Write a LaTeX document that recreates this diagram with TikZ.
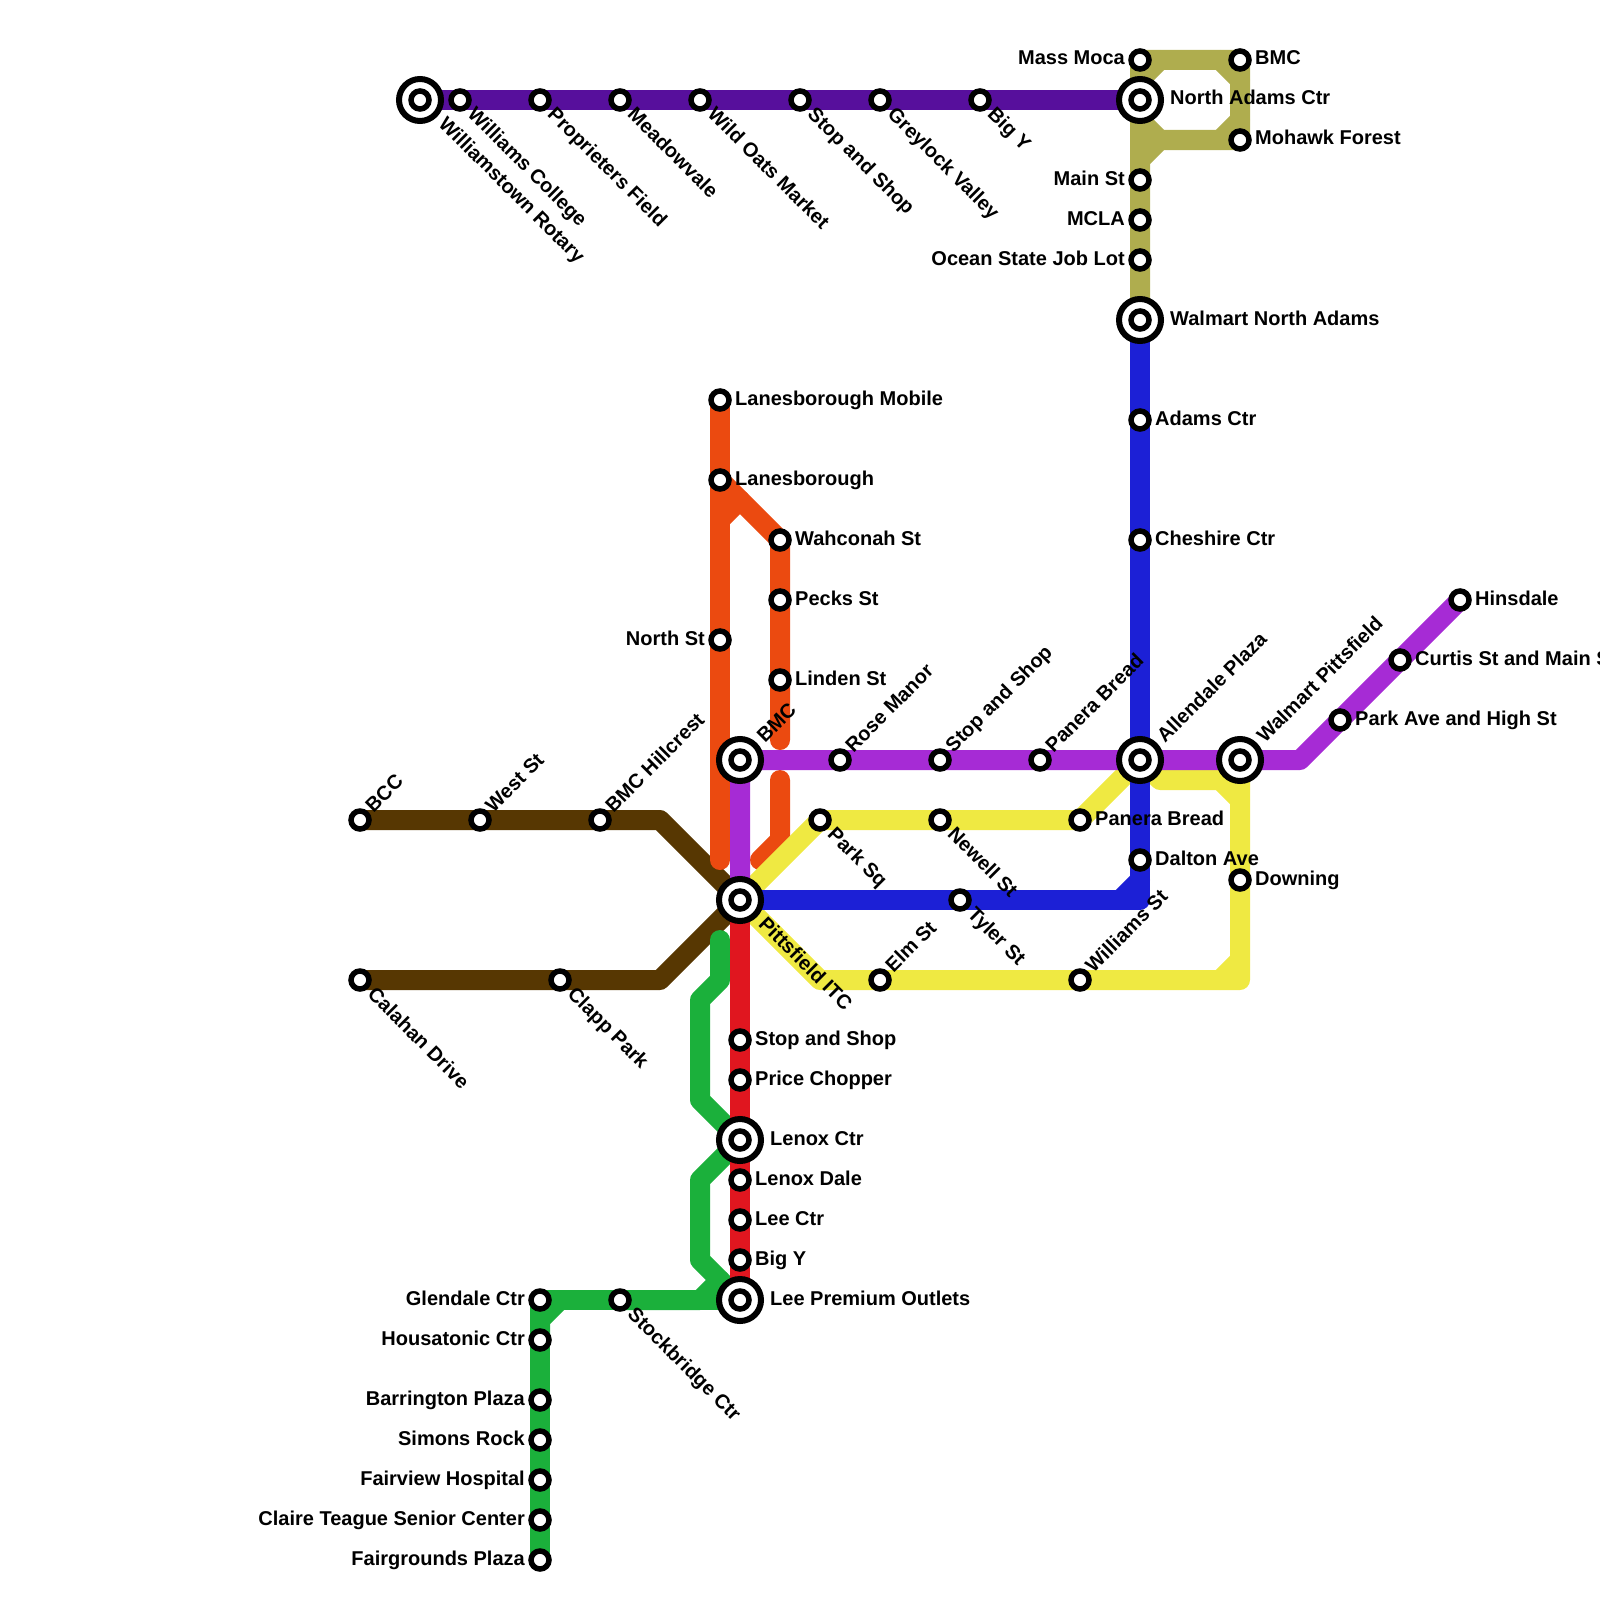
\documentclass[tikz,border=0pt]{standalone}
\usepackage{fontspec}
\setmainfont{Liberation Sans}
\definecolor{LineNorth}{HTML}{570F9C}
\definecolor{LineOlive}{HTML}{AFAD4E}
\definecolor{LineOrange}{HTML}{EB4A10}
\definecolor{LinePurple}{HTML}{A62BD5}
\definecolor{LineBlue}{HTML}{1C20D6}
\definecolor{LineYellow}{HTML}{EFE942}
\definecolor{LineBrown}{HTML}{573702}
\definecolor{LineGreen}{HTML}{1BB03B}
\definecolor{LineRed}{HTML}{E0161F}
\usetikzlibrary{backgrounds}
\tikzset{
  stop/.style={circle,draw=black,fill=white,line width=5.5pt,inner sep=0pt,outer sep=0pt,minimum size=18pt},
  hub/.style={circle,draw=black,fill=white,line width=6pt,inner sep=0pt,outer sep=0pt,minimum size=42pt},
  route/.style={line width=20pt,line cap=round,line join=round},
  lbl/.style={inner sep=0pt,font=\fontsize{20}{22}\selectfont\bfseries,text=black,text height=14pt,text depth=0pt},
  lblE/.style={lbl,anchor=west,xshift=15pt,yshift=2pt},
  lblW/.style={lbl,anchor=east,xshift=-15pt,yshift=2pt},
  lblNE/.style={lbl,anchor=west,xshift=8.5pt,yshift=11.5pt,rotate=45},
  lblSE/.style={lbl,anchor=west,xshift=11.5pt,yshift=-10.5pt,rotate=-45},
  hubE/.style={lbl,anchor=west,xshift=30pt,yshift=2pt},
  hubNE/.style={lbl,anchor=west,xshift=20pt,yshift=21pt,rotate=45},
  hubSE/.style={lbl,anchor=west,xshift=22.5pt,yshift=-20pt,rotate=-45}
}
\begin{document}
\begin{tikzpicture}[x=1pt,y=-1pt]
  \useasboundingbox (0,0) rectangle (1600,1600);
  \foreach \name/\px/\py/\side/\txt in {
    rotary/420/100/hubSE/Williamstown Rotary,
    northadams/1140/100/hubE/North Adams Ctr,
    walmartna/1140/320/hubE/Walmart North Adams,
    bmcpitt/740/760/hubNE/BMC,
    allendale/1140/760/hubNE/Allendale Plaza,
    walmartp/1240/760/hubNE/Walmart Pittsfield,
    pittsfield/740/900/hubSE/Pittsfield ITC,
    lenox/740/1140/hubE/Lenox Ctr,
    leeoutlets/740/1300/hubE/Lee Premium Outlets}{
    \node[hub] (\name) at (\px,\py) {};
    \node[stop] (\name-in) at (\name.center) {};
    \node[\side] (\name-txt) at (\name.center) {\txt};
  }
  \foreach \name/\px/\py/\side/\txt in {
    college/460/100/lblSE/Williams College,
    proprieters/540/100/lblSE/Proprieters Field,
    meadowvale/620/100/lblSE/Meadowvale,
    wildoats/700/100/lblSE/Wild Oats Market,
    stopshopn/800/100/lblSE/Stop and Shop,
    greylock/880/100/lblSE/Greylock Valley,
    bigyn/980/100/lblSE/Big Y,
    massmoca/1140/60/lblW/Mass Moca,
    bmcn/1240/60/lblE/BMC,
    mohawk/1240/140/lblE/Mohawk Forest,
    mainst/1140/180/lblW/Main St,
    mcla/1140/220/lblW/MCLA,
    joblot/1140/260/lblW/Ocean State Job Lot,
    adams/1140/420/lblE/Adams Ctr,
    cheshire/1140/540/lblE/Cheshire Ctr,
    dalton/1140/860/lblE/Dalton Ave,
    tyler/960/900/lblSE/Tyler St,
    lanemobile/720/400/lblE/Lanesborough Mobile,
    lane/720/480/lblE/Lanesborough,
    northst/720/640/lblW/North St,
    wahconah/780/540/lblE/Wahconah St,
    pecks/780/600/lblE/Pecks St,
    linden/780/680/lblE/Linden St,
    rose/840/760/lblNE/Rose Manor,
    stopshopp/940/760/lblNE/Stop and Shop,
    panerap/1040/760/lblNE/Panera Bread,
    parkave/1340/720/lblE/Park Ave and High St,
    curtis/1400/660/lblE/Curtis St and Main St,
    hinsdale/1460/600/lblE/Hinsdale,
    parksq/820/820/lblSE/Park Sq,
    newell/940/820/lblSE/Newell St,
    panera/1080/820/lblE/Panera Bread,
    downing/1240/880/lblE/Downing,
    elm/880/980/lblNE/Elm St,
    williams/1080/980/lblNE/Williams St,
    bcc/360/820/lblNE/BCC,
    westst/480/820/lblNE/West St,
    hillcrest/600/820/lblNE/BMC Hillcrest,
    calahan/360/980/lblSE/Calahan Drive,
    clapp/560/980/lblSE/Clapp Park,
    stopshops/740/1040/lblE/Stop and Shop,
    chopper/740/1080/lblE/Price Chopper,
    lenoxdale/740/1180/lblE/Lenox Dale,
    leectr/740/1220/lblE/Lee Ctr,
    bigys/740/1260/lblE/Big Y,
    stockbridge/620/1300/lblSE/Stockbridge Ctr,
    glendale/540/1300/lblW/Glendale Ctr,
    housatonic/540/1340/lblW/Housatonic Ctr,
    barrington/540/1400/lblW/Barrington Plaza,
    simons/540/1440/lblW/Simons Rock,
    fairview/540/1480/lblW/Fairview Hospital,
    claire/540/1520/lblW/Claire Teague Senior Center,
    fairgrounds/540/1560/lblW/Fairgrounds Plaza}{
    \node[stop] (\name) at (\px,\py) {};
    \node[\side] (\name-txt) at (\name.center) {\txt};
  }
  \coordinate (orangeUp) at (780,740);
  \coordinate (orangeLow) at (780,780);
  \coordinate (orangeEnd) at (760,860);
  \coordinate (orangeFoot) at (720,860);
  \coordinate (greenTop) at (720,940);
  \begin{scope}[on background layer]
    \draw[route,LineBrown] (bcc.center) -- (660,820) -- (pittsfield.center);
    \draw[route,LineBrown] (calahan.center) -- (660,980) -- (pittsfield.center);
    \draw[route,LineGreen] (greenTop) -- (720,980) -- (700,1000) -- (700,1100) -- (lenox.center);
    \draw[route,LineGreen] (lenox.center) -- (700,1180) -- (700,1260) -- (leeoutlets.center);
    \draw[route,LineGreen] (leeoutlets.center) -- (glendale.center) -- (fairgrounds.center);
    \draw[route,LineGreen] (stockbridge.center) -- (700,1300) -- (720,1280);
    \draw[route,LineGreen] (housatonic.center) -- (540,1320) -- (560,1300);
    \draw[route,LineOrange] (lanemobile.center) -- (orangeFoot);
    \draw[route,LineOrange] (lane.center) -- (wahconah.center) -- (orangeUp);
    \draw[route,LineOrange] (720,520) -- (740,500);
    \draw[route,LineOrange] (orangeLow) -- (780,840) -- (orangeEnd);
    \draw[route,LineYellow] (pittsfield.center) -- (parksq.center) -- (panera.center) -- (allendale.center) -- (1160,780) -- (1240,780);
    \draw[route,LineYellow] (pittsfield.center) -- (820,980) -- (1240,980) -- (walmartp.center);
    \draw[route,LineYellow] (1220,780) -- (1240,800);
    \draw[route,LineYellow] (1220,980) -- (1240,960);
    \draw[route,LineRed] (pittsfield.center) -- (leeoutlets.center);
    \draw[route,LineBlue] (walmartna.center) -- (1140,900) -- (pittsfield.center);
    \draw[route,LineBlue] (1120,900) -- (1140,880);
    \draw[route,LinePurple] (pittsfield.center) -- (bmcpitt.center) -- (1300,760) -- (hinsdale.center);
    \draw[route,LineOlive] (walmartna.center) -- (massmoca.center) -- (bmcn.center) -- (mohawk.center) -- (1160,140) -- (1140,160);
    \draw[route,LineOlive] (1160,60) -- (1140,80);
    \draw[route,LineOlive] (1140,120) -- (1160,140);
    \draw[route,LineOlive] (1220,60) -- (1240,80);
    \draw[route,LineOlive] (1240,120) -- (1220,140);
    \draw[route,LineNorth] (rotary.center) -- (northadams.center);
  \end{scope}
\end{tikzpicture}
\end{document}
